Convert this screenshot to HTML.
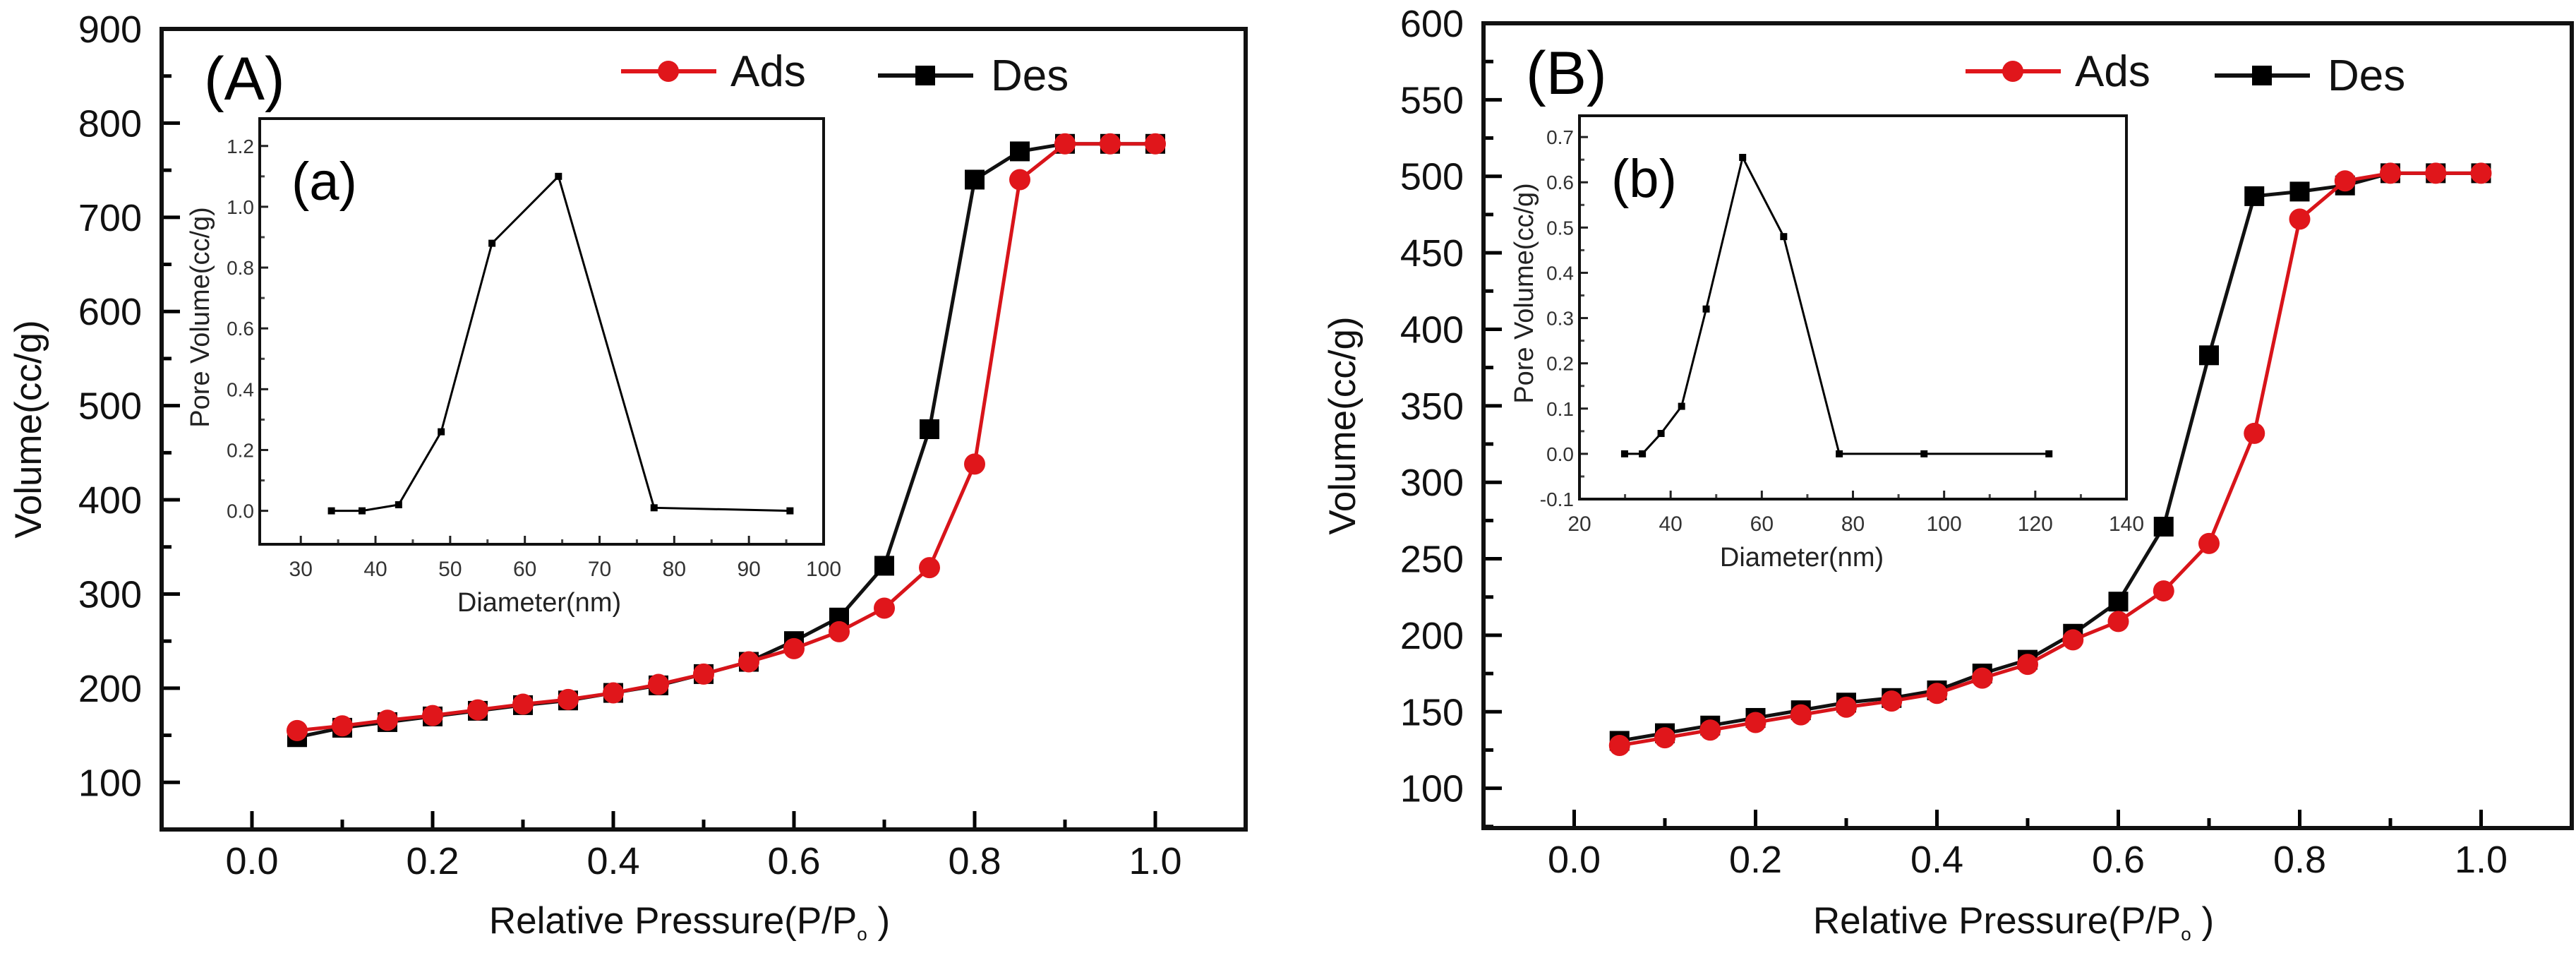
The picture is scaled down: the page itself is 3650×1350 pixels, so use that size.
<!DOCTYPE html>
<html><head><meta charset="utf-8">
<style>
html,body{margin:0;padding:0;background:#fff;}
svg{display:block;font-family:"Liberation Sans",Arial,sans-serif;}
</style></head>
<body>
<svg id="chart" width="3650" height="1350" viewBox="0 0 3650 1350" xmlns="http://www.w3.org/2000/svg">
<rect width="3650" height="1350" fill="#fff"/>
</svg>
<script>
// ---- Data ----
const pressure = [0.05,0.10,0.15,0.20,0.25,0.30,0.35,0.40,0.45,0.50,0.55,0.60,0.65,0.70,0.75,0.80,0.85,0.90,0.95,1.00];
const adsA = [155,160,166,171,177,183,188,195,204,215,228,242,260,285,328,438,740,778,778,778];
const desA = [148,158,164,170,176,182,187,195,203,215,228,250,275,330,475,740,770,778,778,778];
const adsB = [128,133,138,143,148,153,157,162,172,181,197,209,229,260,332,472,497,502,502,502];
const desB = [131,136,141,146,151,156,159,164,175,184,201,222,271,383,487,490,494,502,502,502];
const poreDiamA = [34.1,38.2,43.1,48.8,55.6,64.5,77.3,95.5];
const poreVolA = [0.0,0.0,0.02,0.26,0.88,1.10,0.01,0.0];
const poreDiamB = [29.9,33.8,37.9,42.4,47.8,55.8,64.8,77,95.6,123];
const poreVolB = [0.0,0.0,0.045,0.105,0.32,0.655,0.48,0.0,0.0,0.0];
const xTicksMain = [0.0,0.2,0.4,0.6,0.8,1.0];
const yTicksA = [100,200,300,400,500,600,700,800,900];
const yTicksB = [100,150,200,250,300,350,400,450,500,550,600];
const insetXTicksA = [30,40,50,60,70,80,90,100];
const insetYTicksA = [0.0,0.2,0.4,0.6,0.8,1.0,1.2];
const insetXTicksB = [20,40,60,80,100,120,140];
const insetYTicksB = [-0.1,0.0,0.1,0.2,0.3,0.4,0.5,0.6,0.7];

const svg = document.getElementById('chart');
const NS = 'http://www.w3.org/2000/svg';
function mk(tag, attrs, parent, text){
  const e = document.createElementNS(NS, tag);
  for (const k in attrs) e.setAttribute(k, attrs[k]);
  if (text !== undefined) e.textContent = text;
  (parent||svg).appendChild(e);
  return e;
}
function scale(d0,d1,r0,r1){ return v => r0 + (v-d0)/(d1-d0)*(r1-r0); }

function panel(cfg){
  const g = mk('g',{});
  
  
  const X = scale(-0.1,1.1,cfg.L,cfg.R), Y = scale(cfg.y0,cfg.y1,cfg.B,cfg.T);
  // ticks x
  xTicksMain.forEach(v=>{
    const t = mk('line',{x1:X(v),x2:X(v),y1:cfg.B,y2:cfg.B-26,stroke:'#000','stroke-width':5},g);
     
    const m = mk('line',{x1:X(v+0.1),x2:X(v+0.1),y1:cfg.B,y2:cfg.B-14,stroke:'#000','stroke-width':5},g);
     
    const l = mk('text',{x:X(v),y:cfg.B+63,'font-size':54,'text-anchor':'middle',fill:'#111'},g,v.toFixed(1));
     
  });
  cfg.yt.forEach((v,i)=>{
    const t = mk('line',{x1:cfg.L,x2:cfg.L+26,y1:Y(v),y2:Y(v),stroke:'#000','stroke-width':5},g);
     
    const mv = v - cfg.ystep/2;
    if (mv > cfg.y0) {
      const m = mk('line',{x1:cfg.L,x2:cfg.L+14,y1:Y(mv),y2:Y(mv),stroke:'#000','stroke-width':5},g);
       
    }
    const l = mk('text',{x:cfg.L-28,y:Y(v)+19,'font-size':54,'text-anchor':'end',fill:'#111'},g,String(v));
     
  });
  const fr = mk('rect',{x:cfg.L,y:cfg.T,width:cfg.R-cfg.L,height:cfg.B-cfg.T,fill:'none',stroke:'#111','stroke-width':6},g);
   
  const xt = mk('text',{x:(cfg.L+cfg.R)/2-20,y:1322,'font-size':53,'text-anchor':'middle',fill:'#111'},g);
   
  xt.innerHTML = 'Relative Pressure(P/P<tspan font-size="26" dy="10">o</tspan><tspan dy="-10"> )</tspan>';
  const yt = mk('text',{x:0,y:0,'font-size':53,'text-anchor':'middle',fill:'#111',transform:`translate(${cfg.ytx},${(cfg.T+cfg.B)/2}) rotate(-90)`},g,'Volume(cc/g)');
   
  const pl = mk('text',{x:cfg.L+60,y:cfg.T+100,'font-size':86,fill:'#000'},g,cfg.label);
   
  // legend
  const lg = mk('g',{},g);  
  mk('line',{x1:cfg.lg1,x2:cfg.lg1+135,y1:101,y2:101,stroke:'#e0161b','stroke-width':6},lg);
  mk('circle',{cx:cfg.lg1+67,cy:101,r:15,fill:'#e0161b'},lg);
  const t1 = mk('text',{x:cfg.lg1+155,y:122,'font-size':62,fill:'#111'},lg,'Ads');
   
  mk('line',{x1:cfg.lg2,x2:cfg.lg2+135,y1:107,y2:107,stroke:'#111','stroke-width':6},lg);
  mk('rect',{x:cfg.lg2+53,y:93,width:28,height:28,fill:'#000'},lg);
  const t2 = mk('text',{x:cfg.lg2+160,y:128,'font-size':62,fill:'#111'},lg,'Des');
   
  // series: des first then ads on top
  const dl = mk('polyline',{points:pressure.map((p,i)=>X(p)+','+Y(cfg.des[i])).join(' '),fill:'none',stroke:'#111','stroke-width':5},g);
   
  pressure.forEach((p,i)=>{
    const r = mk('rect',{x:X(p)-14,y:Y(cfg.des[i])-14,width:28,height:28,fill:'#000'},g);
     
  });
  const al = mk('polyline',{points:pressure.map((p,i)=>X(p)+','+Y(cfg.ads[i])).join(' '),fill:'none',stroke:'#d8141a','stroke-width':5},g);
   
  pressure.forEach((p,i)=>{
    const c = mk('circle',{cx:X(p),cy:Y(cfg.ads[i]),r:15,fill:'#e0161b'},g);
     
  });
  return g;
}

function inset(cfg){
  const g = mk('g',{});
  
  
  mk('rect',{x:cfg.L,y:cfg.T,width:cfg.R-cfg.L,height:cfg.B-cfg.T,fill:'#fff'},g);
  const X = scale(cfg.x0,cfg.x1,cfg.L,cfg.R), Y = scale(cfg.y0,cfg.y1,cfg.B,cfg.T);
  cfg.xt.forEach(v=>{
    const t = mk('line',{x1:X(v),x2:X(v),y1:cfg.B,y2:cfg.B-12,stroke:'#222','stroke-width':3},g);
     
    const mv = v + cfg.xstep/2;
    if (mv < cfg.x1) mk('line',{x1:X(mv),x2:X(mv),y1:cfg.B,y2:cfg.B-7,stroke:'#444','stroke-width':3},g);
    const l = mk('text',{x:X(v),y:cfg.B+45,'font-size':30,'text-anchor':'middle',fill:'#333'},g,String(v));
     
  });
  cfg.yt.forEach(v=>{
    const t = mk('line',{x1:cfg.L,x2:cfg.L+12,y1:Y(v),y2:Y(v),stroke:'#222','stroke-width':3},g);
     
    const mv = v + cfg.ystep/2;
    if (mv < cfg.y1) mk('line',{x1:cfg.L,x2:cfg.L+7,y1:Y(mv),y2:Y(mv),stroke:'#444','stroke-width':3},g);
    const l = mk('text',{x:cfg.L-8,y:Y(v)+10,'font-size':28,'text-anchor':'end',fill:'#333'},g,v.toFixed(1));
     
  });
  const fr = mk('rect',{x:cfg.L,y:cfg.T,width:cfg.R-cfg.L,height:cfg.B-cfg.T,fill:'none',stroke:'#111','stroke-width':4},g);
   
  const xt = mk('text',{x:cfg.xtx,y:cfg.B+95,'font-size':38,'text-anchor':'middle',fill:'#222'},g,'Diameter(nm)');
   
  const yt = mk('text',{x:0,y:0,'font-size':38,'text-anchor':'middle',fill:'#222',transform:`translate(${cfg.ytx},${(cfg.T+cfg.B)/2-20}) rotate(-90)`},g,'Pore Volume(cc/g)');
   
  const pl = mk('text',{x:cfg.L+45,y:cfg.T+115,'font-size':76,fill:'#000'},g,cfg.label);
   
  const ln = mk('polyline',{points:cfg.dx.map((d,i)=>X(d)+','+Y(cfg.dy[i])).join(' '),fill:'none',stroke:'#000','stroke-width':3},g);
   
  cfg.dx.forEach((d,i)=>{
    const r = mk('rect',{x:X(d)-5,y:Y(cfg.dy[i])-5,width:10,height:10,fill:'#000'},g);
     
  });
}

panel({name:'panel-a',L:229,R:1765,T:41,B:1175,y0:50,y1:900,yt:yTicksA,ystep:100,ads:adsA,des:desA,label:'(A)',ytx:58,lg1:880,lg2:1244});
inset({name:'inset-a',L:368,R:1167,T:168,B:771,x0:24.5,x1:100,y0:-0.11,y1:1.29,xt:insetXTicksA,xstep:10,yt:insetYTicksA,ystep:0.2,dx:poreDiamA,dy:poreVolA,label:'(a)',xtx:764,ytx:296});
panel({name:'panel-b',L:2102,R:3644,T:33,B:1173,y0:74,y1:600,yt:yTicksB,ystep:50,ads:adsB,des:desB,label:'(B)',ytx:1920,lg1:2785,lg2:3138});
inset({name:'inset-b',L:2238,R:3013,T:164,B:707,x0:20,x1:140,y0:-0.1,y1:0.747,xt:insetXTicksB,xstep:20,yt:insetYTicksB,ystep:0.1,dx:poreDiamB,dy:poreVolB,label:'(b)',xtx:2553,ytx:2172});
</script>
</body></html>
